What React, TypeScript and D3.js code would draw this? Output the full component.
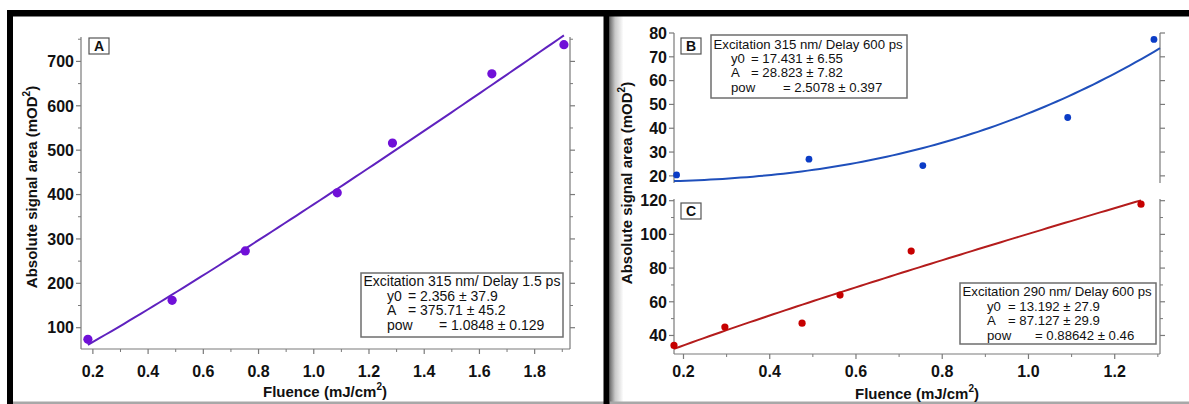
import React from 'react';
import * as d3 from 'd3';

// ---- data ----
const fluenceA = [0.182, 0.487, 0.752, 1.085, 1.285, 1.645, 1.906];
const signalA = [73.9, 161.7, 273, 403.8, 516, 672, 737.6];
const fluenceB = [0.184, 0.491, 0.755, 1.091, 1.291];
const signalB = [20.4, 27.0, 24.3, 44.5, 77.3];
const fluenceC = [0.178, 0.296, 0.475, 0.563, 0.728, 1.261];
const signalC = [34.1, 45.0, 47.3, 64.0, 90.1, 117.9];

// fit parameters shown in the legends: y = y0 + A * x^pow
const fitA = [2.356, 375.71, 1.0848];
const fitB = [17.431, 28.823, 2.5078];
const fitC = [13.192, 87.127, 0.88642];

const titleA = 'Excitation 315 nm/ Delay 1.5 ps';
const titleB = 'Excitation 315 nm/ Delay 600 ps';
const titleC = 'Excitation 290 nm/ Delay 600 ps';
const rowsA = [['y0', '= 2.356 ± 37.9'], ['A', '= 375.71 ± 45.2'], ['pow', '= 1.0848 ± 0.129']];
const rowsB = [['y0', '= 17.431 ± 6.55'], ['A', '= 28.823 ± 7.82'], ['pow', '= 2.5078 ± 0.397']];
const rowsC = [['y0', '= 13.192 ± 27.9'], ['A', '= 87.127 ± 29.9'], ['pow', '= 0.88642 ± 0.46']];

const xTicksA = [0.2, 0.4, 0.6, 0.8, 1.0, 1.2, 1.4, 1.6, 1.8];
const xMinorA = [0.3, 0.5, 0.7, 0.9, 1.1, 1.3, 1.5, 1.7, 1.9];
const yTicksA = [100, 200, 300, 400, 500, 600, 700];
const yMinorA = [150, 250, 350, 450, 550, 650, 750];
const yTicksB = [20, 30, 40, 50, 60, 70, 80];
const xTicksC = [0.2, 0.4, 0.6, 0.8, 1.0, 1.2];
const xMinorC = [0.3, 0.5, 0.7, 0.9, 1.1, 1.3];
const yTicksC = [40, 60, 80, 100, 120];
const yMinorC = [50, 70, 90, 110];

const FONT = "'Liberation Sans', Arial, Helvetica, sans-serif";
const AXIS = '#7a7a7a';

type Scale = d3.ScaleLinear<number, number>;

function fitPath(x: Scale, y: Scale, p: number[], lo: number, hi: number) {
  const xs = d3.range(0, 81).map((i) => lo + ((hi - lo) * i) / 80);
  const line = d3
    .line<number>()
    .x((v) => x(v))
    .y((v) => y(p[0] + p[1] * Math.pow(v, p[2])));
  return line(xs) || '';
}

function YAxis({ x, y, xl, xr, ticks, minor, fmt }: any) {
  const [r0, r1] = y.range();
  return (
    <g>
      <line x1={xl} x2={xl} y1={r0} y2={r1} stroke={AXIS} strokeWidth={1.2} />
      <line x1={xr} x2={xr} y1={r0} y2={r1} stroke={AXIS} strokeWidth={1.2} />
      {ticks.map((t: number) => (
        <g key={'t' + t}>
          <line x1={xl - 5} x2={xl} y1={y(t)} y2={y(t)} stroke={AXIS} strokeWidth={1.2} />
          <line x1={xr} x2={xr + 5} y1={y(t)} y2={y(t)} stroke={AXIS} strokeWidth={1.2} />
          <text x={xl - 7} y={y(t)} dy="0.36em" textAnchor="end" fontFamily={FONT} fontWeight="bold" fontSize={16} fill="#111">
            {fmt ? fmt(t) : t}
          </text>
        </g>
      ))}
      {(minor || []).map((t: number) => (
        <g key={'m' + t}>
          <line x1={xl - 3} x2={xl} y1={y(t)} y2={y(t)} stroke={AXIS} strokeWidth={1} />
          <line x1={xr} x2={xr + 3} y1={y(t)} y2={y(t)} stroke={AXIS} strokeWidth={1} />
        </g>
      ))}
    </g>
  );
}

function XAxis({ x, yPos, ticks, minor, labelY }: any) {
  const [r0, r1] = x.range();
  return (
    <g>
      <line x1={r0} x2={r1} y1={yPos} y2={yPos} stroke={AXIS} strokeWidth={1.2} />
      {ticks.map((t: number) => (
        <g key={'t' + t}>
          <line x1={x(t)} x2={x(t)} y1={yPos} y2={yPos + 5} stroke={AXIS} strokeWidth={1.2} />
          <text x={x(t)} y={labelY} textAnchor="middle" fontFamily={FONT} fontWeight="bold" fontSize={16} fill="#111">
            {d3.format('.1f')(t)}
          </text>
        </g>
      ))}
      {minor.map((t: number) => (
        <line key={'m' + t} x1={x(t)} x2={x(t)} y1={yPos} y2={yPos + 3} stroke={AXIS} strokeWidth={1} />
      ))}
    </g>
  );
}

function Legend({ x, y, w, h, title, rows, fs, base, step, lx, ex, powx }: any) {
  return (
    <g fontFamily={FONT} fontSize={fs} fill="#111">
      <rect x={x} y={y} width={w} height={h} fill="#fff" stroke="#6e6e6e" strokeWidth={1.5} />
      <text x={x + 2.5} y={base}>{title}</text>
      {rows.map((r: string[], i: number) => (
        <g key={r[0]}>
          <text x={lx} y={base + step * (i + 1)}>{r[0]}</text>
          <text x={r[0] === 'pow' ? powx : ex} y={base + step * (i + 1)}>{r[1]}</text>
        </g>
      ))}
    </g>
  );
}

function PanelLabel({ x, y, label }: any) {
  return (
    <g>
      <rect x={x} y={y} width={20} height={16} fill="#fff" stroke="#555" strokeWidth={1.2} />
      <text x={x + 10} y={y + 13} textAnchor="middle" fontFamily={FONT} fontWeight="bold" fontSize={14} fill="#111">
        {label}
      </text>
    </g>
  );
}

function YTitle({ x, y }: any) {
  return (
    <text transform={`translate(${x},${y}) rotate(-90)`} textAnchor="middle" fontFamily={FONT} fontWeight="bold" fontSize={15} fill="#111">
      Absolute signal area (mOD
      <tspan dy={-7} fontSize={10}>2</tspan>
      <tspan dy={7}>)</tspan>
    </text>
  );
}

function XTitle({ x, y }: any) {
  return (
    <text x={x} y={y} textAnchor="middle" fontFamily={FONT} fontWeight="bold" fontSize={15} fill="#111">
      Fluence (mJ/cm
      <tspan dy={-7} fontSize={10}>2</tspan>
      <tspan dy={7}>)</tspan>
    </text>
  );
}

export default function App() {
  // panel A
  const xA = d3.scaleLinear().domain([0.157, 1.928]).range([81, 570]);
  const yA = d3.scaleLinear().domain([52, 755]).range([349, 37]);
  // panels B and C share x
  const xR = d3.scaleLinear().domain([0.178, 1.305]).range([674, 1160]);
  const yB = d3.scaleLinear().domain([17, 80]).range([183, 33]);
  const yC = d3.scaleLinear().domain([29, 121]).range([354, 199]);

  const colA = { pt: '#7010d8', ln: '#5f22bf' };
  const colB = { pt: '#0b3cc6', ln: '#1f4fbb' };
  const colC = { pt: '#c60000', ln: '#b41c1c' };

  return (
    <svg width={1189} height={404} style={{ position: 'absolute', left: 0, top: 0, background: '#fff' }}>
      <defs>
        <linearGradient id="shade" x1="0" x2="1" y1="0" y2="0">
          <stop offset="0" stopColor="#6a6a6a" />
          <stop offset="0.4" stopColor="#c8c8c8" />
          <stop offset="1" stopColor="#ffffff" />
        </linearGradient>
      </defs>
      <rect x={0} y={0} width={1189} height={404} fill="#fff" />

      {/* frame */}
      <rect x={609.5} y={16} width={14} height={388} fill="url(#shade)" />
      <rect x={7} y={401.5} width={1182} height={2.5} fill="#a8a8a8" />
      <rect x={7} y={10} width={1182} height={6.5} fill="#000" />
      <rect x={7} y={10} width={6} height={394} fill="#000" />
      <rect x={603.5} y={10} width={6} height={394} fill="#000" />

      {/* ---------- Panel A ---------- */}
      <YAxis x={xA} y={yA} xl={81} xr={570} ticks={yTicksA} minor={yMinorA} />
      <XAxis x={xA} yPos={349} ticks={xTicksA} minor={xMinorA} labelY={377} />
      <path d={fitPath(xA, yA, fitA, fluenceA[0], fluenceA[fluenceA.length - 1])} fill="none" stroke={colA.ln} strokeWidth={2} />
      {fluenceA.map((f, i) => (
        <circle key={i} cx={xA(f)} cy={yA(signalA[i])} r={4.6} fill={colA.pt} />
      ))}
      <PanelLabel x={89} y={38} label="A" />
      <Legend x={361} y={273} w={202} h={64} title={titleA} rows={rowsA} fs={14} base={286} step={14.6} lx={387} ex={408} powx={439} />
      <YTitle x={36.5} y={187} />
      <XTitle x={325} y={397} />

      {/* ---------- Panel B ---------- */}
      <YAxis x={xR} y={yB} xl={674} xr={1160} ticks={yTicksB} />
      <path d={fitPath(xR, yB, fitB, 0.178, 1.305)} fill="none" stroke={colB.ln} strokeWidth={2} />
      {fluenceB.map((f, i) => (
        <circle key={i} cx={xR(f)} cy={yB(signalB[i])} r={3.4} fill={colB.pt} />
      ))}
      <PanelLabel x={681} y={38} label="B" />
      <Legend x={711} y={35} w={196} h={63} title={titleB} rows={rowsB} fs={13.2} base={48.5} step={14.4} lx={731} ex={751} powx={783} />

      {/* ---------- Panel C ---------- */}
      <YAxis x={xR} y={yC} xl={674} xr={1160} ticks={yTicksC} minor={yMinorC} />
      <XAxis x={xR} yPos={354} ticks={xTicksC} minor={xMinorC} labelY={377} />
      <path d={fitPath(xR, yC, fitC, fluenceC[0], fluenceC[fluenceC.length - 1])} fill="none" stroke={colC.ln} strokeWidth={2} />
      {fluenceC.map((f, i) => (
        <circle key={i} cx={xR(f)} cy={yC(signalC[i])} r={3.6} fill={colC.pt} />
      ))}
      <PanelLabel x={681} y={203} label="C" />
      <Legend x={960} y={283} w={196} h={61} title={titleC} rows={rowsC} fs={13.2} base={296} step={14.5} lx={987} ex={1008} powx={1035} />

      <YTitle x={632} y={183} />
      <XTitle x={917} y={399} />
    </svg>
  );
}
